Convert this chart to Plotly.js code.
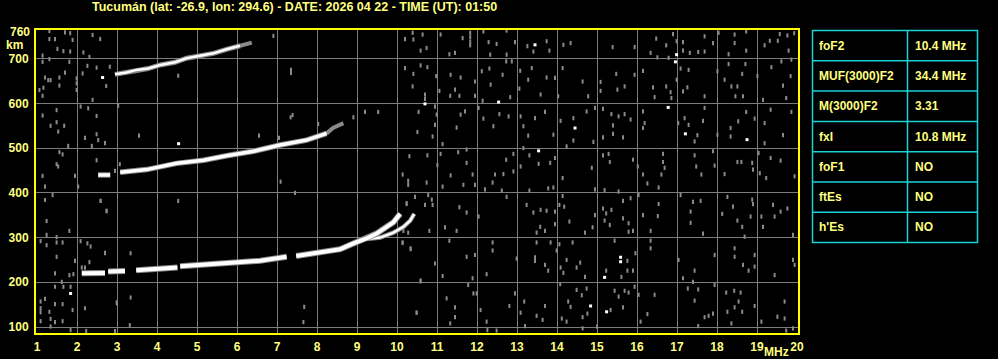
<!DOCTYPE html>
<html>
<head>
<meta charset="utf-8">
<script src="https://cdn.plot.ly/plotly-3.0.1.min.js"></script>
<style>html,body{margin:0;padding:0;background:#000;}#chart{width:998px;height:359px;}</style>
</head>
<body>
<div id="chart"></div>
<script>
// ---------- data ----------
const titleText = "Tucumán (lat: -26.9, lon: 294.6) - DATE: 2026 04 22 - TIME (UT): 01:50";
const freqTicks = [1,2,3,4,5,6,7,8,9,10,11,12,13,14,15,16,17,18,19,20];
const heightTicks = [100,200,300,400,500,600,700];
const heightTopLabel = 760;

// first-hop F trace (O mode) - gaps as null
const hop1OFreq = [2.12,2.70,null,2.78,3.20,null,3.48,4.51,null,4.58,5.74,6.58,7.24,null,7.48,8.08,8.58,8.91,9.24,9.49,9.74,9.91,10.08];
const hop1OHeight = [220,221,null,224,225,null,227,233,null,236,242,248,257,null,259,267,274,287,298,309,324,334,353];
// first-hop X mode branch
const hop1XFreq = [9.24,9.58,9.91,10.16,10.33,10.43];
const hop1XHeight = [297,300,311,324,338,353];
// second hop
const hop2Freq = [2.53,2.83,null,3.08,3.74,4.49,5.16,5.74,6.41,7.08,7.74,8.24];
const hop2Height = [440,440,null,446,452,466,473,483,493,507,518,533];
const hop2TailFreq = [8.24,8.40,8.66];
const hop2TailHeight = [533,545,556];
// third hop
const hop3Freq = [2.95,3.24,3.49,3.78,4.08,4.45,4.74,5.08,5.41,5.74,6.08];
const hop3Height = [665,669,675,678,686,692,701,707,712,721,729];
const hop3TailFreq = [6.08,6.37];
const hop3TailHeight = [729,736];

// background noise echoes (gray)
const noiseFreq = [
10.39,10.64,10.41,10.20,10.59,10.74,11.09,11.64,11.31,11.45,11.83,11.83,11.83,11.83,12.16,12.29,12.49,12.33,12.74,12.74,12.95,13.26,13.41,13.74,13.81,14.16,14.34,10.20,10.41,10.59,10.76,10.98,10.39,11.06,11.34,11.59,11.45,11.95,12.12,12.31,12.64,12.73,12.87,12.34,13.08,13.28,13.37,13.74,13.95,14.14,14.64,13.06,13.59,14.03,14.78,10.70,10.70,10.95,11.33,11.56,11.95,12.14,12.83,10.54,10.99,10.95,11.59,11.70,11.49,10.51,10.89,11.14,12.04,12.16,12.56,12.79,12.41,13.09,13.45,13.70,13.16,13.28,13.91,14.41,14.74,14.95,14.09,14.41,14.24,14.91,13.16,10.31,10.76,11.09,11.53,11.74,11.74,11.01,10.14,10.28,11.34,11.89,12.45,12.66,12.91,13.31,12.73,12.91,13.09,13.54,13.83,13.95,14.14,14.87,
15.39,15.94,16.48,16.73,16.90,16.99,16.34,16.51,16.79,17.15,17.15,17.32,17.53,17.69,17.69,17.90,18.04,18.44,18.44,18.73,18.73,18.29,19.19,19.32,19.52,19.57,19.76,19.79,19.93,19.86,19.61,15.09,15.09,15.48,15.69,15.51,15.94,16.15,16.40,16.44,16.73,16.84,16.86,16.99,17.09,17.15,17.29,17.26,17.69,18.01,18.19,18.29,18.36,18.51,18.63,18.71,18.65,18.46,19.01,19.15,19.36,19.65,19.73,19.84,15.15,15.36,15.54,15.69,15.84,15.40,15.40,15.15,15.65,16.15,16.19,16.15,17.03,17.19,17.29,17.51,17.44,17.69,17.65,18.01,18.34,18.34,18.53,18.73,18.94,19.19,19.19,19.34,19.65,19.86,15.15,15.29,15.32,15.90,16.02,16.15,16.65,16.65,16.69,16.61,17.44,17.48,17.61,17.90,17.94,18.19,18.51,18.61,18.88,18.90,19.04,19.07,19.34,19.59,19.23,19.94,
10.28,10.74,11.14,11.66,11.95,12.39,12.20,12.62,13.31,13.78,13.91,14.95,10.45,10.24,10.70,10.87,11.56,11.74,12.74,12.04,11.20,11.49,10.81,10.16,10.28,13.24,13.41,13.59,13.74,13.58,13.49,13.70,13.95,13.95,14.06,14.18,14.31,14.70,14.14,14.89,14.95,10.14,10.34,11.31,10.95,11.14,11.74,11.95,11.89,12.24,12.39,12.39,12.99,13.49,13.70,13.84,13.45,13.45,13.78,13.99,14.06,14.09,14.16,14.24,14.39,14.49,14.58,14.70,10.59,10.49,11.24,11.45,11.45,11.33,11.78,11.91,11.99,12.09,12.24,12.26,12.49,12.81,12.95,13.09,13.18,13.49,13.64,13.70,13.20,14.08,14.12,14.28,14.34,14.49,14.62,14.74,14.76,14.64,14.24,15.00,14.64,
15.19,15.54,15.65,15.84,16.26,16.54,16.04,15.15,15.23,15.36,15.19,15.32,15.65,15.79,15.90,15.79,16.15,16.34,16.54,16.52,17.09,17.40,17.34,17.34,17.59,17.65,18.26,18.40,18.13,18.51,18.63,18.69,18.84,18.88,18.90,19.11,19.15,19.44,19.59,19.40,19.76,19.90,15.44,15.76,15.96,15.23,15.61,15.76,15.90,16.34,16.34,17.04,17.15,17.40,17.44,17.94,18.44,18.44,18.65,18.79,18.94,18.94,19.44,19.90,19.94,15.44,15.54,15.69,15.79,15.94,16.04,16.44,15.34,15.65,16.09,16.26,17.27,17.53,17.44,17.94,17.90,17.69,17.79,17.53,18.23,18.43,18.59,18.44,18.54,18.26,18.36,18.63,18.94,19.11,19.51,19.69,19.69,19.73,19.90,
1.31,1.45,1.31,1.70,1.83,1.89,1.51,1.66,1.83,1.14,1.31,1.14,1.81,1.70,1.20,1.28,1.34,1.56,1.06,1.16,1.56,1.14,1.99,1.99,1.99,2.16,2.31,2.26,2.49,2.39,2.58,2.14,2.73,2.82,2.39,1.14,1.49,1.34,1.53,1.68,1.49,1.78,1.56,1.64,1.49,1.53,1.14,1.95,1.20,1.39,2.09,2.28,2.20,2.49,2.53,2.70,2.37,2.49,2.03,2.59,2.74,3.03,2.95,3.07,1.20,1.24,1.81,1.24,1.49,1.09,1.24,1.49,1.64,1.49,1.95,1.45,1.81,1.91,1.62,1.45,1.66,1.84,1.89,1.09,1.20,1.09,1.09,1.31,1.45,1.64,1.34,1.09,1.45,1.64,1.34,1.84,2.09,2.26,2.34,2.70,2.31,2.20,2.12,2.20,2.23,2.99,2.95,
3.00,3.34,3.32,7.68,7.66,10.49,10.59,6.91,7.35,7.35,4.53,2.49,3.55,6.55,7.09,7.34,7.39,7.05,8.03,8.91,9.20,9.53,2.59,2.74,4.53,7.45,3.34,2.70,10.34,10.14,10.24,10.78,10.89
];
const noiseHeight = [
758,754,743,744,718,724,754,746,710,713,758,748,738,730,761,737,733,709,763,709,737,728,716,739,718,731,735,679,666,685,681,661,638,628,664,658,631,649,672,678,664,694,694,642,673,653,679,658,657,679,649,633,620,616,616,620,610,593,617,617,617,606,614,581,575,552,575,582,546,536,526,509,590,566,576,571,549,571,567,581,549,528,530,567,582,590,561,517,504,514,500,482,484,487,491,497,467,462,441,427,439,441,441,442,487,484,474,448,459,465,467,478,433,456,
726,726,745,730,755,739,713,703,702,737,718,713,715,750,716,735,758,754,735,761,718,710,730,740,740,755,752,718,757,698,694,648,628,666,638,631,664,673,636,614,638,625,612,653,678,627,675,636,616,672,653,688,638,638,666,688,616,616,661,608,681,640,612,661,588,576,571,576,564,551,532,524,524,582,556,545,556,567,552,529,515,590,561,530,545,526,560,581,566,556,511,586,529,581,484,487,469,474,459,441,487,469,456,441,484,459,441,493,461,442,469,469,467,452,489,444,478,472,433,437,
418,423,414,418,418,423,408,405,405,410,412,408,391,375,373,385,368,356,391,347,323,315,315,315,311,373,356,362,360,324,311,315,358,330,373,369,336,311,393,323,350,289,276,293,242,214,257,261,209,218,289,271,253,289,239,289,256,248,226,271,285,233,221,250,289,233,244,212,204,132,164,144,122,108,194,175,175,138,112,93,92,147,175,132,157,125,116,147,102,196,119,157,145,183,171,186,130,122,112,101,97,
406,403,382,388,421,412,395,365,354,362,338,328,343,332,315,313,350,315,375,348,395,380,358,333,382,309,391,369,353,338,324,302,347,385,375,347,324,347,358,373,365,306,293,248,265,226,212,226,226,293,276,250,209,201,226,261,276,257,239,226,235,261,216,250,239,181,168,181,177,190,172,172,138,144,112,129,186,184,159,194,130,122,125,102,177,181,177,144,157,134,108,134,147,112,123,157,119,92,97,
762,744,744,759,757,742,722,717,716,707,699,693,693,669,658,652,652,658,630,635,640,617,656,645,630,714,704,684,680,753,744,667,639,682,608,573,585,550,537,550,558,505,491,486,464,459,438,438,414,395,593,589,523,531,518,511,505,473,414,382,359,595,449,464,384,337,315,306,301,292,283,289,289,257,248,220,216,218,201,190,190,190,138,157,163,142,133,134,151,151,118,113,111,113,101,93,292,287,280,265,245,233,233,142,91,155,91,
153,166,104,145,111,132,202,751,675,668,662,572,528,528,425,569,574,523,554,569,581,581,382,360,382,400,265,266,274,288,377,395,373
];
// isolated strong (white) echoes
const brightFreq = [13.45,10.70,12.54,14.45,13.54,16.99,16.96,16.78,17.21,18.75,14.84,15.59,15.59,15.19,15.24,2.64,1.84,4.54];
const brightHeight = [731,599,603,545,494,709,693,591,532,519,147,256,246,211,134,658,175,510];

// parameter table
const tableParams = ["foF2","MUF(3000)F2","M(3000)F2","fxI","foF1","ftEs","h'Es"];
const tableValues = ["10.4 MHz","34.4 MHz","3.31","10.8 MHz","NO","NO","NO"];

// ---------- styling ----------
const TXT = '#ffff80', FRAME = '#ffff00', GRID = '#7c7c7c', CYAN = '#19d2d6';
const FONT = 'Liberation Sans, Arial, sans-serif';
const L = 36, R = 200, T = 30, B = 26, W = 998, H = 359;
const pw = W - L - R, ph = H - T - B;
const px = x => (x - L) / pw;       // pixel -> paper x
const py = y => (H - B - y) / ph;   // pixel -> paper y

const traces = [
  {x: noiseFreq, y: noiseHeight, type: 'scatter', mode: 'markers', hoverinfo: 'skip',
   marker: {symbol: 'line-ns', size: 3, line: {width: 2, color: '#8a8a8a'}}},
  {x: hop3TailFreq, y: hop3TailHeight, type: 'scatter', mode: 'lines', line: {color: '#8a8a8a', width: 4}, hoverinfo: 'skip'},
  {x: hop3Freq, y: hop3Height, type: 'scatter', mode: 'lines', line: {color: '#8a8a8a', width: 5}, hoverinfo: 'skip'},
  {x: hop3Freq, y: hop3Height, type: 'scatter', mode: 'lines', line: {color: '#ffffff', width: 2.5}},
  {x: hop2TailFreq, y: hop2TailHeight, type: 'scatter', mode: 'lines', line: {color: '#8a8a8a', width: 4}, hoverinfo: 'skip'},
  {x: hop2Freq, y: hop2Height, type: 'scatter', mode: 'lines', line: {color: '#8a8a8a', width: 5.5}, hoverinfo: 'skip'},
  {x: hop2Freq, y: hop2Height, type: 'scatter', mode: 'lines', line: {color: '#ffffff', width: 3.5}},
  {x: hop1XFreq, y: hop1XHeight, type: 'scatter', mode: 'lines', line: {color: '#8a8a8a', width: 4.5}, hoverinfo: 'skip'},
  {x: hop1XFreq, y: hop1XHeight, type: 'scatter', mode: 'lines', line: {color: '#ffffff', width: 2.5}},
  {x: hop1OFreq, y: hop1OHeight, type: 'scatter', mode: 'lines', line: {color: '#8a8a8a', width: 6}, hoverinfo: 'skip'},
  {x: hop1OFreq, y: hop1OHeight, type: 'scatter', mode: 'lines', line: {color: '#ffffff', width: 4}},
  {x: brightFreq, y: brightHeight, type: 'scatter', mode: 'markers', hoverinfo: 'skip',
   marker: {symbol: 'square', size: 3, color: '#ffffff'}}
];

const annotations = [
  {text: '<b>' + titleText + '</b>', xref: 'paper', yref: 'paper', x: px(90), y: py(7.5),
   xanchor: 'left', yanchor: 'middle', showarrow: false, font: {family: FONT, size: 12.5, color: TXT}},
  {text: '<b>' + heightTopLabel + '</b>', xref: 'paper', yref: 'y', x: px(32), y: heightTopLabel,
   xanchor: 'right', yanchor: 'middle', showarrow: false, font: {family: FONT, size: 12, color: TXT}},
  {text: '<b>km</b>', xref: 'paper', yref: 'paper', x: px(14), y: py(45),
   xanchor: 'center', yanchor: 'middle', showarrow: false, font: {family: FONT, size: 12, color: TXT}},
  {text: '<b>MHz</b>', xref: 'paper', yref: 'paper', x: px(776.5), y: py(352),
   xanchor: 'center', yanchor: 'middle', showarrow: false, font: {family: FONT, size: 12, color: TXT}}
];

const shapes = [];
const tLeft = 812.5, tMid = 907.5, tRight = 977.5, tTop = 30.5, rowH = 30.3;
const nRows = tableParams.length;
const tBottom = tTop + rowH * nRows;
const ln = {color: CYAN, width: 1.5};
shapes.push({type: 'rect', xref: 'paper', yref: 'paper', x0: px(tLeft), x1: px(tRight), y0: py(tTop), y1: py(tBottom), line: ln});
shapes.push({type: 'line', xref: 'paper', yref: 'paper', x0: px(tMid), x1: px(tMid), y0: py(tTop), y1: py(tBottom), line: ln});
for (let i = 0; i < nRows; i++) {
  if (i > 0) shapes.push({type: 'line', xref: 'paper', yref: 'paper', x0: px(tLeft), x1: px(tRight),
    y0: py(tTop + rowH * i), y1: py(tTop + rowH * i), line: ln});
  const yc = tTop + rowH * (i + 0.5);
  annotations.push({text: '<b>' + tableParams[i] + '</b>', xref: 'paper', yref: 'paper', x: px(817), y: py(yc),
    xanchor: 'left', yanchor: 'middle', showarrow: false, font: {family: FONT, size: 12, color: TXT}});
  annotations.push({text: '<b>' + tableValues[i] + '</b>', xref: 'paper', yref: 'paper', x: px(912.5), y: py(yc),
    xanchor: 'left', yanchor: 'middle', showarrow: false, font: {family: FONT, size: 12, color: TXT}});
}

const layout = {
  width: W, height: H,
  margin: {l: L, r: R, t: T, b: B, pad: 0},
  paper_bgcolor: '#000000', plot_bgcolor: '#000000',
  showlegend: false,
  font: {family: FONT, color: TXT, size: 12},
  xaxis: {
    range: [0.975, 0.975 + pw / 40], tickvals: freqTicks, ticktext: freqTicks.map(v => '<b>' + v + '</b>'),
    showgrid: true, gridcolor: GRID, gridwidth: 1, zeroline: false,
    showline: true, linecolor: FRAME, linewidth: 2, mirror: true, ticks: '', ticklabelstandoff: 2,
    tickfont: {family: FONT, size: 12, color: TXT}, fixedrange: true
  },
  yaxis: {
    range: [86.6, 764.2], tickvals: heightTicks, ticktext: heightTicks.map(v => '<b>' + v + '</b>'),
    showgrid: true, gridcolor: GRID, gridwidth: 1, zeroline: false,
    showline: true, linecolor: FRAME, linewidth: 2, mirror: true, ticks: '', ticklabelstandoff: 3,
    tickfont: {family: FONT, size: 12, color: TXT}, fixedrange: true
  },
  annotations: annotations,
  shapes: shapes
};

Plotly.newPlot('chart', traces, layout, {displayModeBar: false, staticPlot: true});
</script>
</body>
</html>
